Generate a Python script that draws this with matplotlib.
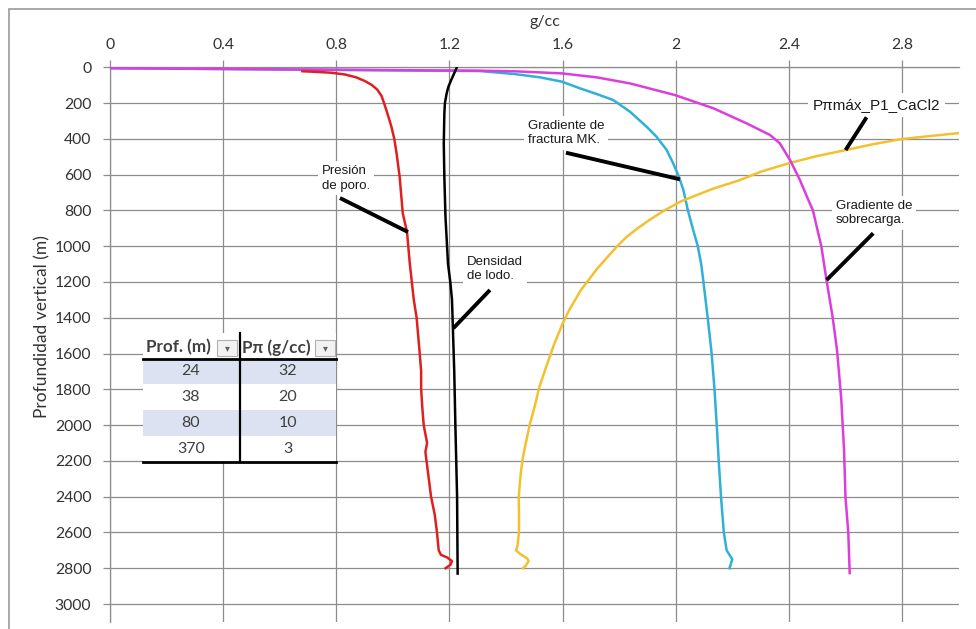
import matplotlib
matplotlib.use("Agg")
import matplotlib.pyplot as plt
from matplotlib.patches import Rectangle
from matplotlib.lines import Line2D
from matplotlib.ticker import FuncFormatter

W, H = 976, 629

# ---------------- data (g/cc vs depth m) ----------------
red_x = [0.68, 0.72, 0.78, 0.83, 0.87, 0.9, 0.925, 0.945, 0.96, 0.972, 0.985, 0.995, 1.005, 1.013,
         1.024, 1.035, 1.05, 1.06, 1.074, 1.084, 1.095, 1.1, 1.1, 1.104, 1.109, 1.121, 1.115,
         1.119, 1.127, 1.135, 1.148, 1.156, 1.162, 1.17, 1.192, 1.209, 1.204, 1.186]
red_y = [22, 25, 30, 40, 56, 76, 98, 125, 160, 215, 280, 333, 400, 480,
         612, 816, 920, 1100, 1300, 1400, 1600, 1700, 1800, 1900, 2000, 2100, 2150,
         2200, 2300, 2400, 2500, 2600, 2700, 2725, 2740, 2760, 2780, 2800]

black_x = [1.226, 1.215, 1.206, 1.196, 1.19, 1.184, 1.182, 1.18, 1.181, 1.182, 1.186, 1.195,
           1.203, 1.209, 1.212, 1.217, 1.221, 1.227, 1.229]
black_y = [0, 40, 72, 110, 147, 200, 260, 425, 520, 612, 837, 1100,
           1200, 1300, 1450, 1700, 2000, 2400, 2830]

cyan_x = [0.0, 1.308, 1.426, 1.52, 1.597, 1.662, 1.72, 1.779, 1.838, 1.897, 1.932, 1.968,
          1.991, 2.011, 2.027, 2.035, 2.043, 2.06, 2.078, 2.09, 2.098, 2.113, 2.127,
          2.137, 2.145, 2.152, 2.16, 2.165, 2.17, 2.18, 2.2, 2.19]
cyan_y = [5, 21, 37, 56, 80, 118, 149, 183, 248, 332, 388, 462,
          537, 611, 686, 742, 800, 900, 1000, 1100, 1200, 1400, 1600,
          1800, 2000, 2200, 2400, 2500, 2600, 2700, 2750, 2800]

mag_x = [0.0, 1.308, 1.426, 1.597, 1.72, 1.838, 1.997, 2.133, 2.25, 2.333, 2.368, 2.404,
         2.439, 2.469, 2.485, 2.515, 2.533, 2.555, 2.57, 2.585, 2.595, 2.60, 2.61, 2.615]
mag_y = [5, 19, 22, 34, 56, 90, 155, 229, 313, 378, 425, 518,
         630, 742, 800, 1003, 1189, 1400, 1578, 1850, 2136, 2400, 2600, 2827]

yel_x = [3.0, 2.9, 2.8, 2.7, 2.6, 2.5, 2.4, 2.3, 2.224, 2.131, 2.02, 1.96, 1.91, 1.865,
         1.825, 1.79, 1.722, 1.664, 1.623, 1.6, 1.571, 1.542, 1.518, 1.501, 1.485, 1.47,
         1.46, 1.452, 1.445, 1.446, 1.446, 1.44, 1.435, 1.45, 1.475, 1.48, 1.47, 1.46]
yel_y = [368, 384, 401, 429, 463, 496, 536, 584, 632, 679, 748, 800, 850, 900,
         950, 1005, 1126, 1247, 1358, 1433, 1544, 1674, 1786, 1898, 1990, 2100,
         2177, 2270, 2400, 2500, 2600, 2680, 2700, 2720, 2745, 2760, 2785, 2800]

x_ticks = [0, 0.4, 0.8, 1.2, 1.6, 2.0, 2.4, 2.8]
y_ticks = list(range(0, 3001, 200))

tab_header = ["Prof. (m)", "P\u03c0 (g/cc)"]
tab_prof = [24, 38, 80, 370]
tab_ppi = [32, 20, 10, 3]

labels = ["Presi\u00f3n\nde poro.", "Densidad\nde lodo.", "Gradiente de\nfractura MK.",
          "P\u03c0m\u00e1x_P1_CaCl2", "Gradiente de\nsobrecarga."]

# ---------------- figure ----------------
fig = plt.figure(figsize=(W / 100, H / 100), dpi=100)
fig.patch.set_facecolor("white")

def P(x, y):
    return (x / W, 1 - y / H)

x0, x1 = 110, 958.6
y0, y1 = 67.3, 621.9
ax = fig.add_axes([x0 / W, 1 - y1 / H, (x1 - x0) / W, (y1 - y0) / H])
ax.set_xlim(0, 3.0)
ax.set_ylim(3100, 0)

gcol = "#8c8c8c"
ax.set_xticks(x_ticks)
ax.set_yticks(y_ticks)
ax.xaxis.set_major_formatter(FuncFormatter(lambda v, p: f"{v:g}"))
ax.xaxis.tick_top()
ax.grid(True, color=gcol, lw=0.9)
ax.set_axisbelow(True)
for s in ["right", "bottom"]:
    ax.spines[s].set_visible(False)
for s in ["left", "top"]:
    ax.spines[s].set_color(gcol)
    ax.spines[s].set_linewidth(0.9)
ax.tick_params(axis="both", direction="out", length=5, width=0.9, color=gcol,
               labelcolor="#333333")
ax.tick_params(axis="x", pad=6)
ax.tick_params(axis="y", pad=8.5)
for lab in ax.get_xticklabels() + ax.get_yticklabels():
    lab.set_fontfamily(["Lato", "DejaVu Sans"])
    lab.set_fontsize(11.3)

lw = 1.8
ax.plot(cyan_x, cyan_y, color="#2fb0d9", lw=lw, zorder=3, solid_joinstyle="round")
ax.plot(mag_x, mag_y, color="#dd3ddd", lw=lw, zorder=3.2, solid_joinstyle="round")
ax.plot(yel_x, yel_y, color="#f2c12e", lw=lw, zorder=3.1, solid_joinstyle="round")
ax.plot(red_x, red_y, color="#e02020", lw=lw, zorder=3.3, solid_joinstyle="round")
ax.plot(black_x, black_y, color="black", lw=lw, zorder=3.4, solid_joinstyle="round")

# axis titles
fig.text(*P(42, 327), "Profundidad vertical (m)", rotation=90, ha="center", va="center",
         family=["Lato", "DejaVu Sans"], fontsize=12.5, color="#333333")
fig.text(*P(545, 22), "g/cc", ha="center", va="center",
         family=["Lato", "DejaVu Sans"], fontsize=11.5, color="#333333")

# annotations
def d(px, py):
    return ((px - x0) / 282.9, (py - y0) / 0.1789)

ann_text_pos = [(321.7, 178.4), (467, 268.9), (527.7, 132.9), (812.7, 105), (836, 212.9)]
ann_lines = [((340, 198), (408, 232)), ((490, 290), (453.3, 328.3)),
             ((566, 152.7), (680, 179.3)), ((866.7, 117.3), (845.7, 150)),
             ((873.3, 233.3), (826.7, 280))]
for i, (lab, tp, ln) in enumerate(zip(labels, ann_text_pos, ann_lines)):
    fs = 11 if i == 3 else 9.5
    tx, ty = d(*tp)
    ax.text(tx, ty, lab, ha="left", va="center", multialignment="left",
            family=["Liberation Sans", "DejaVu Sans"], fontsize=fs, color="#1a1a1a",
            linespacing=1.25, zorder=5,
            bbox=dict(boxstyle="square,pad=0.3", facecolor="white", edgecolor="none"))
    (ax_, ay_), (bx_, by_) = d(*ln[0]), d(*ln[1])
    ax.plot([ax_, bx_], [ay_, by_], color="black", lw=2.8, solid_capstyle="butt", zorder=6)

# ---------------- table ----------------
def rect(xa, ya, xb, yb, **kw):
    r = Rectangle(P(xa, yb), (xb - xa) / W, (yb - ya) / H, transform=fig.transFigure, **kw)
    fig.add_artist(r)

def hline(xa, xb, y, lw_, color="black"):
    fig.add_artist(Line2D([xa / W, xb / W], [1 - y / H, 1 - y / H], transform=fig.transFigure,
                          color=color, lw=lw_, zorder=10))

def vline(x, ya, yb, lw_, color="black"):
    fig.add_artist(Line2D([x / W, x / W], [1 - ya / H, 1 - yb / H], transform=fig.transFigure,
                          color=color, lw=lw_, zorder=10))

tl, tr, tt, tb = 143, 336, 333, 462
rect(tl, tt, tr, tb, facecolor="white", edgecolor="none", zorder=8)
row_top = 358.5
row_h = (461.5 - 358.5) / 4
for i in range(4):
    ya = row_top + i * row_h
    if i % 2 == 0:
        rect(tl, ya, tr, ya + row_h, facecolor="#dce2f1", edgecolor="none", zorder=9)
    yc = ya + row_h / 2
    fig.text(*P(191, yc), str(tab_prof[i]), ha="center", va="center", zorder=11,
             family=["Lato", "DejaVu Sans"], fontsize=11.5, color="#404040")
    fig.text(*P(287.5, yc), str(tab_ppi[i]), ha="center", va="center", zorder=11,
             family=["Lato", "DejaVu Sans"], fontsize=11.5, color="#404040")

# header
fig.text(*P(146.5, 347.5), tab_header[0], ha="left", va="center", zorder=11, fontweight="bold",
         family=["Lato", "DejaVu Sans"], fontsize=12.3, color="#404040")
fig.text(*P(242.5, 347.5), tab_header[1], ha="left", va="center", zorder=11, fontweight="bold",
         family=["Lato", "DejaVu Sans"], fontsize=12.3, color="#404040")
for bx in (217, 315):
    rect(bx, 339.5, bx + 20, 355.5, facecolor="#f2f2f2", edgecolor="#b0b0b0", lw=0.8, zorder=10)
    fig.text(*P(bx + 10, 348), "\u25be", ha="center", va="center", zorder=11,
             family=["DejaVu Sans"], fontsize=7, color="#606060")

hline(tl, tr, 358.5, 2.0)
hline(tl, tr, 461.5, 2.0)
vline(239.5, 333, 461.5, 1.6)

# outer frame
rect(9, 9, 990, 640, facecolor="none", edgecolor="#9a9a9a", lw=1.2, zorder=12)

fig.savefig("out.png", dpi=100)
